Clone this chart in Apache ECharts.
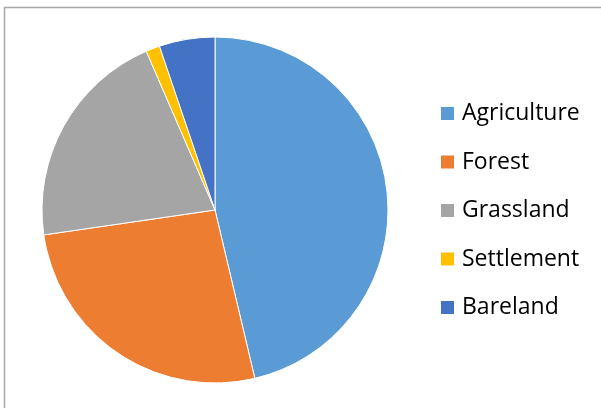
<!DOCTYPE html>
<html>
<head>
<meta charset="utf-8">
<script src="https://cdn.jsdelivr.net/npm/echarts@6/dist/echarts.min.js"></script>
<style>
  html, body { margin: 0; padding: 0; background: #fff; }
  #chart { width: 601px; height: 408px; }
</style>
</head>
<body>
<div id="chart"></div>
<script>
  // land cover shares (%)
  const categories = ["Agriculture", "Forest", "Grassland", "Settlement", "Bareland"];
  const shares = [46.3, 26.4, 20.8, 1.3, 5.2];
  const colors = ["#5B9BD5", "#ED7D31", "#A5A5A5", "#FFC000", "#4472C4"];

  let chart = echarts.init(document.getElementById("chart"));

  chart.setOption({
    animation: false,
    color: colors,
    graphic: [{
      type: "rect",
      shape: { x: 4.5, y: 7.5, width: 800, height: 600 },
      style: { fill: "none", stroke: "#a6a6a6", lineWidth: 1.5 },
      silent: true
    }],
    legend: {
      orient: "vertical",
      left: 439,
      top: 102,
      padding: 0,
      itemWidth: 15,
      itemHeight: 15,
      itemGap: 25.5,
      icon: "rect",
      textStyle: {
        fontFamily: "Open Sans",
        fontSize: 23,
        lineHeight: 23,
        color: "#000",
        padding: [0, 0, 0, 2]
      },
      data: categories
    },
    series: [{
      type: "pie",
      center: [215, 210],
      radius: 173,
      startAngle: 90,
      label: { show: false },
      labelLine: { show: false },
      itemStyle: { borderColor: "#fff", borderWidth: 1 },
      emphasis: { disabled: true },
      data: categories.map((c, i) => ({ name: c, value: shares[i] }))
    }]
  });
</script>
</body>
</html>
